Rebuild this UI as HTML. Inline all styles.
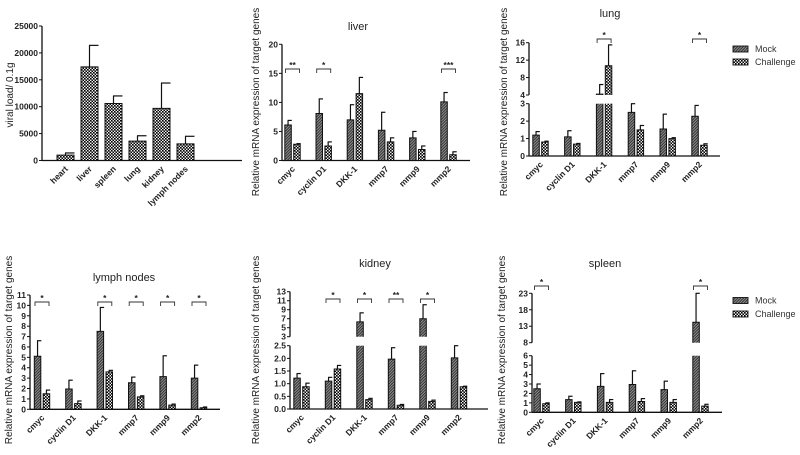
<!DOCTYPE html>
<html><head><meta charset="utf-8">
<style>
html,body{margin:0;padding:0;background:#fff;}
svg{display:block;font-family:"Liberation Sans",Arial,sans-serif;}
.tk{font-size:8.5px;font-weight:bold;fill:#222;}
.xl{font-size:8.5px;font-weight:bold;fill:#222;}
.tt{font-size:11px;fill:#222;}
.yl{font-size:10px;fill:#222;}
.lg{font-size:9px;fill:#333;}
</style></head>
<body>
<svg id="fig" width="800" height="455" viewBox="0 0 800 455" xmlns="http://www.w3.org/2000/svg">
<defs>
<pattern id="hatch" patternUnits="userSpaceOnUse" width="2" height="2" patternTransform="rotate(45)">
<rect width="2" height="2" fill="#999"/><rect width="1.1" height="2" fill="#333"/>
</pattern>
<pattern id="check" patternUnits="userSpaceOnUse" width="3" height="3">
<rect width="3" height="3" fill="#eee"/><rect width="1.6" height="1.6" fill="#000"/><rect x="1.5" y="1.5" width="1.6" height="1.6" fill="#000"/>
</pattern>
</defs>
</svg>
<script>
// ---- data ----
const organs = ["heart","liver","spleen","lung","kidney","lymph nodes"];
const viralLoad = [1000,17400,10600,3600,9700,3100];
const viralErr = [1400,21400,12000,4600,14400,4500];
const viralTicks = [0,5000,10000,15000,20000,25000];

const genes = ["cmyc","cyclin D1","DKK-1","mmp7","mmp9","mmp2"];

const liverMock = [6.1,8.1,7.0,5.2,3.9,10.1];
const liverMockErr = [6.9,10.6,9.6,8.3,5.0,11.7];
const liverChal = [2.8,2.5,11.5,3.2,1.9,1.0];
const liverChalErr = [2.9,3.2,14.3,3.9,2.5,1.5];
const liverTicks = [0,5,10,15,20];
const liverSig = ["**","*","","","","***"];

const lungMock = [1.2,1.1,4.2,2.5,1.55,2.28];
const lungMockErr = [1.4,1.45,6.4,3.0,2.4,2.9];
const lungChal = [0.8,0.68,10.7,1.5,1.0,0.62];
const lungChalErr = [0.85,0.72,15.5,1.75,1.05,0.7];
const lungTicksLow = [0,1,2,3];
const lungTicksHigh = [4,8,12,16];
const lungSig = ["","","*","","","*"];

const lymphMock = [5.1,1.95,7.5,2.55,3.15,3.0];
const lymphMockErr = [6.6,2.8,9.8,3.1,5.15,4.25];
const lymphChal = [1.5,0.55,3.6,1.2,0.4,0.15];
const lymphChalErr = [1.85,0.8,3.75,1.3,0.5,0.22];
const lymphTicks = [0,1,2,3,4,5,6,7,8,9,10,11];
const lymphSig = ["*","","*","*","*","*"];

const kidneyMock = [1.22,1.1,6.3,1.97,7.0,2.02];
const kidneyMockErr = [1.4,1.25,8.3,2.42,10.1,2.5];
const kidneyChal = [0.88,1.58,0.37,0.15,0.3,0.88];
const kidneyChalErr = [1.02,1.72,0.42,0.18,0.35,0.9];
const kidneyTicksLow = [0,0.5,1,1.5,2,2.5];
const kidneyTicksHigh = [3,5,7,9,11,13];
const kidneySig = ["","*","*","**","*",""];

const spleenMock = [2.5,1.35,2.75,2.95,2.4,14.2];
const spleenMockErr = [3.0,1.7,4.1,4.4,3.3,23.0];
const spleenChal = [0.9,1.05,1.05,1.15,1.05,0.65];
const spleenChalErr = [1.0,1.1,1.35,1.45,1.35,0.85];
const spleenTicksLow = [0,1,2,3,4,5,6];
const spleenTicksHigh = [8,13,18,23];
const spleenSig = ["*","","","","","*"];

// ---- drawing ----
const svg = document.getElementById('fig');
const NS = "http://www.w3.org/2000/svg";
function mk(tag, attrs, parent){
  const e = document.createElementNS(NS, tag);
  for (const k in attrs) e.setAttribute(k, attrs[k]);
  (parent||svg).appendChild(e);
  return e;
}
function txt(s, attrs, parent){ const t = mk('text', attrs, parent); t.textContent = s; return t; }

function makeScale(c){
  return function(v){
    if (!c.broken) return c.y0 - (v - c.lo0) * (c.y0 - c.y1) / (c.lo1 - c.lo0);
    if (v <= c.lo1) return c.y0 - (v - c.lo0) * (c.y0 - c.y1) / (c.lo1 - c.lo0);
    if (v < c.hi0) return c.y1;
    return c.y2 - (v - c.hi0) * (c.y2 - c.y3) / (c.hi1 - c.hi0);
  };
}

function drawAxisY(g, c, ys, ticksLow, ticksHigh, fmt){
  mk('line',{x1:c.ax,y1:c.y0,x2:c.ax,y2:c.y1,stroke:'#111','stroke-width':1.3},g);
  ticksLow.forEach(t=>{
    const y = ys(t);
    mk('line',{x1:c.ax-3,y1:y,x2:c.ax,y2:y,stroke:'#111','stroke-width':1},g);
    const lab = txt(fmt(t),{x:c.ax-4,y:y+3,'text-anchor':'end',class:'tk'},g);
    
    
  });
  if (c.broken){
    mk('line',{x1:c.ax,y1:c.y2,x2:c.ax,y2:c.y3,stroke:'#111','stroke-width':1.3},g);
    ticksHigh.forEach(t=>{
      const y = ys(t);
      mk('line',{x1:c.ax-3,y1:y,x2:c.ax,y2:y,stroke:'#111','stroke-width':1},g);
      const lab = txt(fmt(t),{x:c.ax-4,y:y+3,'text-anchor':'end',class:'tk'},g);
      
      
    });
  }
}

function drawBar(g, c, ys, xl, w, v, e, fill, name){
  const segs = [];
  if (!c.broken || v <= c.lo1) segs.push({yt:ys(v), yb:c.y0, openTop:false});
  else {
    segs.push({yt:c.y1, yb:c.y0, openTop:true});
    if (v > c.hi0) segs.push({yt:ys(v), yb:c.y2, openBottom:true});
  }
  segs.forEach(s=>{
    const r = mk('rect',{x:xl,y:s.yt,width:w,height:Math.max(0,s.yb-s.yt),fill:fill},g);
    
    
    let d;
    if (s.openTop) d = `M${xl} ${s.yt} V${s.yb} H${xl+w} V${s.yt}`;
    else if (s.openBottom) d = `M${xl} ${s.yb} V${s.yt} H${xl+w} V${s.yb}`;
    else d = `M${xl} ${s.yb} V${s.yt} H${xl+w} V${s.yb} Z`;
    mk('path',{d:d,fill:'none',stroke:'#111','stroke-width':1},g);
  });
  const cx = xl + w/2, ye = ys(e), yv = ys(v);
  if (c.broken && v <= c.lo1 && e > c.lo1){
    mk('line',{x1:cx,y1:yv,x2:cx,y2:c.y1,stroke:'#111','stroke-width':1.2},g);
    if (e > c.hi0) mk('line',{x1:cx,y1:c.y2,x2:cx,y2:ye,stroke:'#111','stroke-width':1.2},g);
  } else if (c.broken && v > c.lo1 && v < c.hi0 && e > c.hi0) {
    mk('line',{x1:cx,y1:c.y2,x2:cx,y2:ye,stroke:'#111','stroke-width':1.2},g);
  } else {
    mk('line',{x1:cx,y1:yv,x2:cx,y2:ye,stroke:'#111','stroke-width':1.2},g);
  }
  const eb = mk('line',{x1:cx-0.5,y1:ye,x2:cx+w/2+0.5,y2:ye,stroke:'#111','stroke-width':1.2},g);
  
  
}

function drawXLabels(g, c, cats, xs){
  cats.forEach((n,i)=>{
    const x = xs(i)+3, y = c.y0+9;
    const t = txt(n,{x:x,y:y,'text-anchor':'end',class:'xl',transform:`rotate(-45 ${x} ${y})`},g);
    
    
  });
}

function genePanel(p){
  const g = mk('g',{});
  
  
  const c = p.c, ys = makeScale(c);
  const xs = i => c.first + i*c.step;
  drawAxisY(g, c, ys, p.ticksLow, p.ticksHigh||[], t=>p.fmt?p.fmt(t):String(t));
  mk('line',{x1:c.ax,y1:c.y0,x2:c.xend,y2:c.y0,stroke:'#111','stroke-width':1.3},g);
  const w = 6.5;
  genes.forEach((gn,i)=>{
    const cx = xs(i);
    drawBar(g,c,ys,cx-w-1.2,w,p.mock[i],p.mockErr[i],'url(#hatch)','mock-bar-'+gn.replace(/\s/g,'-'));
    drawBar(g,c,ys,cx+1.2,w,p.chal[i],p.chalErr[i],'url(#check)','challenge-bar-'+gn.replace(/\s/g,'-'));
    if (p.sig[i]){
      const by = c.sigY;
      mk('path',{d:`M${cx-7} ${by+4} V${by} H${cx+7} V${by+4}`,fill:'none',stroke:'#333','stroke-width':0.9},g);
      const s = txt(p.sig[i],{x:cx,y:by-1,'text-anchor':'middle',class:'tk'},g);
      
      
    }
  });
  drawXLabels(g, c, genes, xs);
  const t = txt(p.title,{x:p.tx,y:p.ty,'text-anchor':'middle',class:'tt'},g);
  
  
  const yl = txt('Relative mRNA expression of target genes',{x:p.ylx,y:p.yly,'text-anchor':'middle',class:'yl',transform:`rotate(-90 ${p.ylx} ${p.yly})`},g);
  
  
}

(function(){
  const g = mk('g',{});
  
  
  const c = {ax:42,y0:160.5,y1:26,lo0:0,lo1:25000,xend:242,first:65.5,step:24};
  const ys = makeScale(c);
  const xs = i => c.first + i*c.step;
  drawAxisY(g,c,ys,viralTicks,[],String);
  mk('line',{x1:c.ax,y1:c.y0,x2:c.xend,y2:c.y0,stroke:'#111','stroke-width':1.3},g);
  organs.forEach((o,i)=>{
    drawBar(g,c,ys,xs(i)-8.5,17,viralLoad[i],viralErr[i],'url(#check)','viral-bar-'+o.replace(/\s/g,'-'));
  });
  drawXLabels(g,c,organs,xs);
  const yl = txt('viral load/ 0.1g',{x:13,y:95,'text-anchor':'middle',class:'yl',transform:'rotate(-90 13 95)'},g);
  
  
})();

genePanel({id:'liver',title:'liver',tx:358,ty:30,ylx:259,yly:102,
  c:{ax:282,y0:160.5,y1:44.3,lo0:0,lo1:20,xend:470,first:292.5,step:31.2,sigY:69},
  ticksLow:liverTicks,mock:liverMock,mockErr:liverMockErr,chal:liverChal,chalErr:liverChalErr,sig:liverSig});

genePanel({id:'lung',title:'lung',tx:610,ty:17,ylx:507,yly:102,
  c:{ax:529,y0:156,y1:103.7,lo0:0,lo1:3,broken:true,hi0:4,hi1:16,y2:95,y3:42.7,xend:720,first:540.5,step:31.8,sigY:39},
  ticksLow:lungTicksLow,ticksHigh:lungTicksHigh,mock:lungMock,mockErr:lungMockErr,chal:lungChal,chalErr:lungChalErr,sig:lungSig});

genePanel({id:'lymph-nodes',title:'lymph nodes',tx:124,ty:281,ylx:12,yly:350,
  c:{ax:30,y0:409.3,y1:295,lo0:0,lo1:11,xend:220,first:42,step:31.4,sigY:302},
  ticksLow:lymphTicks,mock:lymphMock,mockErr:lymphMockErr,chal:lymphChal,chalErr:lymphChalErr,sig:lymphSig});

genePanel({id:'kidney',title:'kidney',tx:375,ty:267,ylx:259,yly:350,
  c:{ax:290,y0:409,y1:345.7,lo0:0,lo1:2.5,broken:true,hi0:3,hi1:13,y2:336.7,y3:291.7,xend:488,first:301.5,step:31.5,sigY:299},
  ticksLow:kidneyTicksLow,ticksHigh:kidneyTicksHigh,fmt:t=>t.toFixed(1).replace(/^(\d+)\.0$/, (m,a)=>Number(a)>=3?a:m),
  mock:kidneyMock,mockErr:kidneyMockErr,chal:kidneyChal,chalErr:kidneyChalErr,sig:kidneySig});

genePanel({id:'spleen',title:'spleen',tx:605,ty:267,ylx:505,yly:350,
  c:{ax:532,y0:412.3,y1:355.7,lo0:0,lo1:6,broken:true,hi0:8,hi1:23,y2:342.7,y3:293.3,xend:722,first:541.5,step:31.8,sigY:286},
  ticksLow:spleenTicksLow,ticksHigh:spleenTicksHigh,mock:spleenMock,mockErr:spleenMockErr,chal:spleenChal,chalErr:spleenChalErr,sig:spleenSig});

[[49,62],[300.5,314]].forEach((ys,k)=>{
  const g = mk('g',{});
  
  
  [['Mock','url(#hatch)'],['Challenge','url(#check)']].forEach((it,i)=>{
    const y = ys[i];
    mk('rect',{x:733,y:y-3,width:15,height:6,fill:it[1],stroke:'#111','stroke-width':0.9},g);
    const t = txt(it[0],{x:755,y:y+3,class:'lg'},g);
    
    
  });
});
</script>
</body></html>
